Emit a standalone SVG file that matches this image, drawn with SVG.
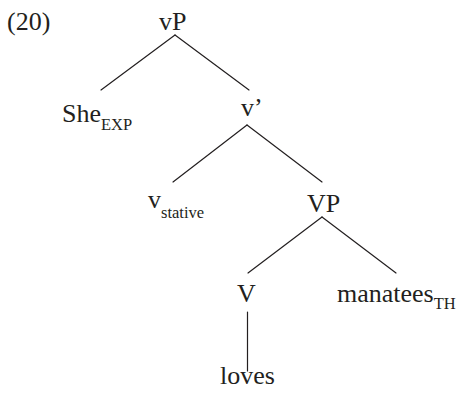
<svg xmlns="http://www.w3.org/2000/svg" width="459" height="395" viewBox="0 0 459 395">
<style>
text{font-family:"Liberation Serif","Times New Roman",serif;font-size:26px;fill:#231f20}
.sub{font-size:16.5px}
.e line{stroke:#231f20;stroke-width:1.2;stroke-linecap:round}
</style>
<rect width="459" height="395" fill="#fff"/>
<text x="7" y="30">(20)</text>
<g id="vP"><text x="159" y="30">vP</text></g>
<g id="She"><text x="62" y="122">She<tspan class="sub" dy="8">EXP</tspan></text></g>
<g id="vbar"><text x="241" y="116">v’</text></g>
<g id="vstative"><text x="148" y="208">v<tspan class="sub" dy="10">stative</tspan></text></g>
<g id="VP"><text x="307" y="212">VP</text></g>
<g id="V"><text x="237" y="302">V</text></g>
<g id="manatees"><text x="337" y="302">manatees<tspan class="sub" dy="7">TH</tspan></text></g>
<g id="loves"><text x="220" y="384">loves</text></g>
<g class="e" id="edges">
<line x1="175" y1="35" x2="101" y2="90"/>
<line x1="175" y1="35" x2="249" y2="90"/>
<line x1="247" y1="125" x2="173" y2="182"/>
<line x1="247" y1="125" x2="322" y2="182"/>
<line x1="322" y1="217" x2="248" y2="273"/>
<line x1="322" y1="217" x2="396" y2="273"/>
<line x1="247.5" y1="312" x2="247.5" y2="371"/>
</g>
</svg>
